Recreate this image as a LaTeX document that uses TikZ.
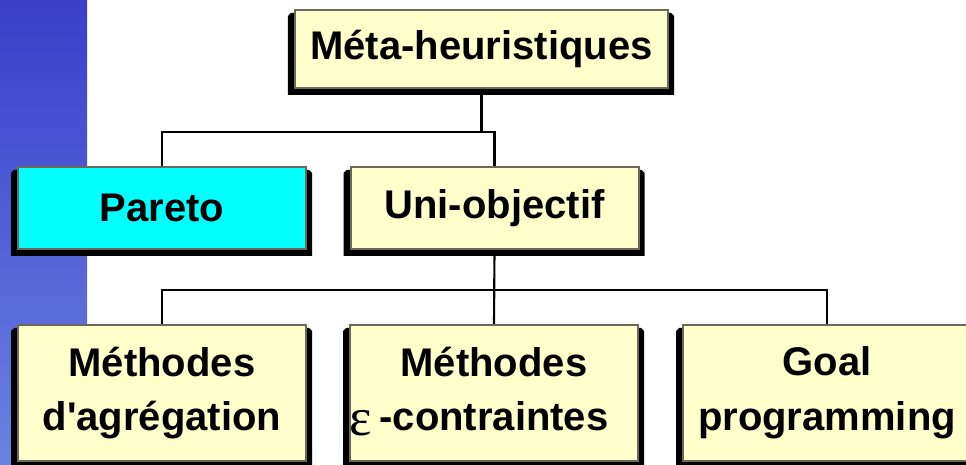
\documentclass[tikz,border=0pt]{standalone}
\usepackage{fontspec}
\setmainfont{Liberation Sans}
\newfontfamily\greekfont{Liberation Serif}
\usetikzlibrary{calc}

\definecolor{paleyellow}{RGB}{255,255,204}
\definecolor{paretocyan}{RGB}{0,255,255}
\definecolor{boxline}{RGB}{110,104,90}
\definecolor{bandtop}{RGB}{58,62,202}
\definecolor{bandbottom}{RGB}{106,130,226}

\pgfdeclarelayer{back}
\pgfdeclarelayer{shade}
\pgfsetlayers{back,shade,main}

\tikzset{
  box/.style={draw=boxline, line width=1.5pt, fill=paleyellow, inner sep=0pt, outer sep=0pt,
              align=center, font=\bfseries\fontsize{30}{41}\selectfont},
  small box/.style={box, minimum width=216pt, minimum height=61.5pt},
  big box/.style={box, minimum width=216pt, minimum height=102pt},
  link/.style={line width=1.6pt},
}

% black drop shadow with clipped top corners
\newcommand\dropshadow[1]{%
  \fill[black] ($(#1.north west)+(-4,-3)$) -- ($(#1.north east)+(3,-3)$)
    -- ($(#1.north east)+(6,-6)$) -- ($(#1.south east)+(6,-7)$)
    -- ($(#1.south west)+(-7,-7)$) -- ($(#1.north west)+(-7,-6)$) -- cycle;}

\begin{document}
\begin{tikzpicture}[x=0.75pt, y=0.75pt]
  \useasboundingbox (0,0) rectangle (966,464);
  \begin{pgfonlayer}{back}
    \fill[white] (0,0) rectangle (966,464);
    \shade[top color=bandtop, bottom color=bandbottom] (0,0) rectangle (87,464);
  \end{pgfonlayer}

  \node[box, minimum width=280pt, minimum height=58.5pt] (meta) at (481.5,415) {Méta-heuristiques};

  \node[small box, fill=paretocyan] (pareto) at (162,256) {Pareto};
  \node[small box] (uni) at (494.5,256) {Uni-objectif};

  \node[big box] (agreg) at (162,71) {Méthodes\\d\textquotesingle agrégation};
  \node[big box] (eps) at (494,71) {Méthodes\\\vphantom{g}-contraintes};
  \node[big box] (goal) at (827,71) {Goal\\programming};
  \node[anchor=base, inner sep=0pt, font=\greekfont\fontsize{40}{40}\selectfont] (epsilon) at (360.5,29) {ε};

  \coordinate (upper) at (0,332);
  \coordinate (lower) at (0,174);

  \begin{pgfonlayer}{shade}
    \draw[link] (meta.south) -- (meta.south |- upper);
    \draw[link] (pareto.north) |- (upper -| uni.north) -- (uni.north);
    \draw[link] (uni.south) -- (eps.north);
    \draw[link] (agreg.north) |- (lower -| goal.north) -- (goal.north);
    \foreach \b in {meta,pareto,uni,agreg,eps,goal}
      \dropshadow{\b};
  \end{pgfonlayer}
\end{tikzpicture}
\end{document}
